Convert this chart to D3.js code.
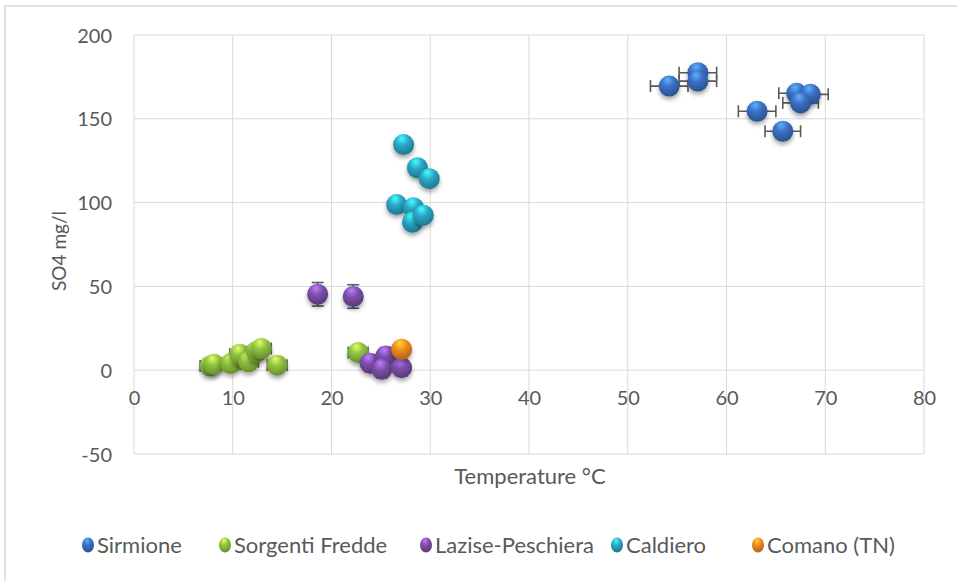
<!DOCTYPE html>
<html><head><meta charset="utf-8">
<script src="https://cdn.jsdelivr.net/npm/d3@7/dist/d3.min.js"></script>
<style>body{margin:0;background:#fff}svg{display:block}text{font-family:Lato,"Open Sans",sans-serif;fill:#595959}</style>
</head><body><svg id="c" width="957" height="581"></svg>
<script>
const seriesNames = ["Sirmione","Sorgenti Fredde","Lazise-Peschiera","Caldiero","Comano (TN)"];
const seriesColors = ["#3a6fc4","#8fc23f","#7b4ea8","#2aa6c6","#f18a1e"];
const sirmioneX = [54.2,57.1,57.1,63.1,65.7,67.1,68.5,67.5];
const sirmioneY = [169.5,177.5,172.5,154.5,142.6,165.2,164.6,159.5];
const sirmioneXerr = [1.9,1.9,1.9,1.9,1.8,1.8,1.8,1.8];
const sirmioneYerr = [1,1,1,1,1,1,1,1];
const fredeX = [7.7,8.1,9.8,10.7,11.6,12.4,12.9,14.5,22.7];
const fredeY = [2.5,3.5,4,9.5,5,11,13,3,10.5];
const fredeXerr = [1,1,1,1,1,1,1,1,1];
const fredeYerr = [0,0,0,0,0,0,0,0,0];
const laziseX = [18.6,22.2,23.9,25.5,25.1,27.1];
const laziseY = [45.3,44,4.2,8.5,0.5,1.5];
const laziseXerr = [0.5,0.5,0.5,0.5,0.5,0.5];
const laziseYerr = [7,7,5,5,5,5];
const caldieroX = [27.3,28.7,29.9,26.6,28.3,28.2,29.3];
const caldieroY = [134.6,120.8,114.3,98.8,97,88.3,92.5];
const caldieroXerr = [0.3,0.3,0.3,0.3,0.3,0.3,0.3];
const caldieroYerr = [3,3,3,3,3,3,3];
const comanoX = [27.1];
const comanoY = [12.5];
const xTicks = [0,10,20,30,40,50,60,70,80];
const yTicks = [-50,0,50,100,150,200];

const series = [
 {x:sirmioneX,y:sirmioneY,xe:sirmioneXerr,ye:sirmioneYerr},
 {x:fredeX,y:fredeY,xe:fredeXerr,ye:fredeYerr},
 {x:laziseX,y:laziseY,xe:laziseXerr,ye:laziseYerr},
 {x:caldieroX,y:caldieroY,xe:caldieroXerr,ye:caldieroYerr},
 {x:comanoX,y:comanoY,xe:[0],ye:[0]}
];

const svg = d3.select("#c");
const defs = svg.append("defs");
seriesColors.forEach((c,i)=>{
  const g = defs.append("radialGradient").attr("id","g"+i).attr("cx","42%").attr("cy","30%").attr("r","70%").attr("fx","42%").attr("fy","20%");
  g.append("stop").attr("offset","0%").attr("stop-color",d3.color(c).brighter(1.3));
  g.append("stop").attr("offset","45%").attr("stop-color",c);
  g.append("stop").attr("offset","100%").attr("stop-color",d3.color(c).darker(0.9));
});
const f = defs.append("filter").attr("id","sh").attr("x","-50%").attr("y","-50%").attr("width","200%").attr("height","200%");
f.append("feDropShadow").attr("dx",0).attr("dy",3).attr("stdDeviation",2).attr("flood-color","#000").attr("flood-opacity",0.35);

svg.append("path").attr("d","M5,581V6H957").attr("fill","none").attr("stroke","#d9d9d9").attr("stroke-width",1.5);

const x = d3.scaleLinear().domain([0,80]).range([134,924]);
const y = d3.scaleLinear().domain([-50,200]).range([454,35]);

const grid = svg.append("g");
grid.selectAll(".v").data(xTicks).join("line").attr("x1",d=>x(d)).attr("x2",d=>x(d)).attr("y1",y(200)).attr("y2",y(-50)).attr("stroke","#d9d9d9");
grid.selectAll(".h").data(yTicks).join("line").attr("y1",d=>y(d)).attr("y2",d=>y(d)).attr("x1",x(0)).attr("x2",x(80)).attr("stroke","#d9d9d9");

const fmt = d => String(d);
const yAxis = d3.axisLeft(y).tickValues(yTicks).tickSize(0).tickPadding(22).tickFormat(fmt);
const ya = svg.append("g").attr("transform",`translate(${x(0)},0)`).call(yAxis);
ya.select(".domain").remove();
ya.selectAll("text").style("font-size","20px").attr("dy","0.35em");
const xAxis = d3.axisBottom(x).tickValues(xTicks).tickSize(0).tickPadding(21).tickFormat(fmt);
const xa = svg.append("g").attr("transform",`translate(0,${y(0)})`).call(xAxis);
xa.select(".domain").remove();
xa.selectAll("text").style("font-size","20px");

svg.append("text").attr("x",530).attr("y",476).attr("dy","0.35em").attr("text-anchor","middle").style("font-size","22px").text("Temperature °C");
svg.append("text").attr("transform","translate(66,251) rotate(-90)").attr("text-anchor","middle").style("font-size","19px").text("SO4 mg/l");

const R = 10.5, cap = 6;
series.forEach((s,i)=>{
  const g = svg.append("g");
  const idx = d3.range(s.x.length);
  const eb = g.append("g").attr("stroke","#595959").attr("stroke-width",1.6);
  idx.forEach(k=>{
    const cx = x(s.x[k]), cy = y(s.y[k]);
    if (s.xe[k]>0){
      const x1=x(s.x[k]-s.xe[k]), x2=x(s.x[k]+s.xe[k]);
      eb.append("line").attr("x1",x1).attr("x2",x2).attr("y1",cy).attr("y2",cy);
      eb.append("line").attr("x1",x1).attr("x2",x1).attr("y1",cy-cap).attr("y2",cy+cap);
      eb.append("line").attr("x1",x2).attr("x2",x2).attr("y1",cy-cap).attr("y2",cy+cap);
    }
    if (s.ye[k]>0){
      const y1=y(s.y[k]-s.ye[k]), y2=y(s.y[k]+s.ye[k]);
      eb.append("line").attr("x1",cx).attr("x2",cx).attr("y1",y1).attr("y2",y2);
      eb.append("line").attr("x1",cx-cap).attr("x2",cx+cap).attr("y1",y1).attr("y2",y1);
      eb.append("line").attr("x1",cx-cap).attr("x2",cx+cap).attr("y1",y2).attr("y2",y2);
    }
  });
  g.selectAll("circle").data(idx).join("circle")
    .attr("cx",k=>x(s.x[k])).attr("cy",k=>y(s.y[k])).attr("r",R)
    .attr("fill",`url(#g${i})`).attr("filter","url(#sh)");
});

// legend
const lg = svg.append("g");
const legMarker = [88,225,426,617,758];
seriesNames.forEach((n,i)=>{
  lg.append("ellipse").attr("cx",legMarker[i]).attr("cy",545).attr("rx",6).attr("ry",7.5).attr("fill",`url(#g${i})`);
  lg.append("text").attr("x",legMarker[i]+9).attr("y",545).attr("dy","0.35em").style("font-size","22px").text(n);
});
</script></body></html>
